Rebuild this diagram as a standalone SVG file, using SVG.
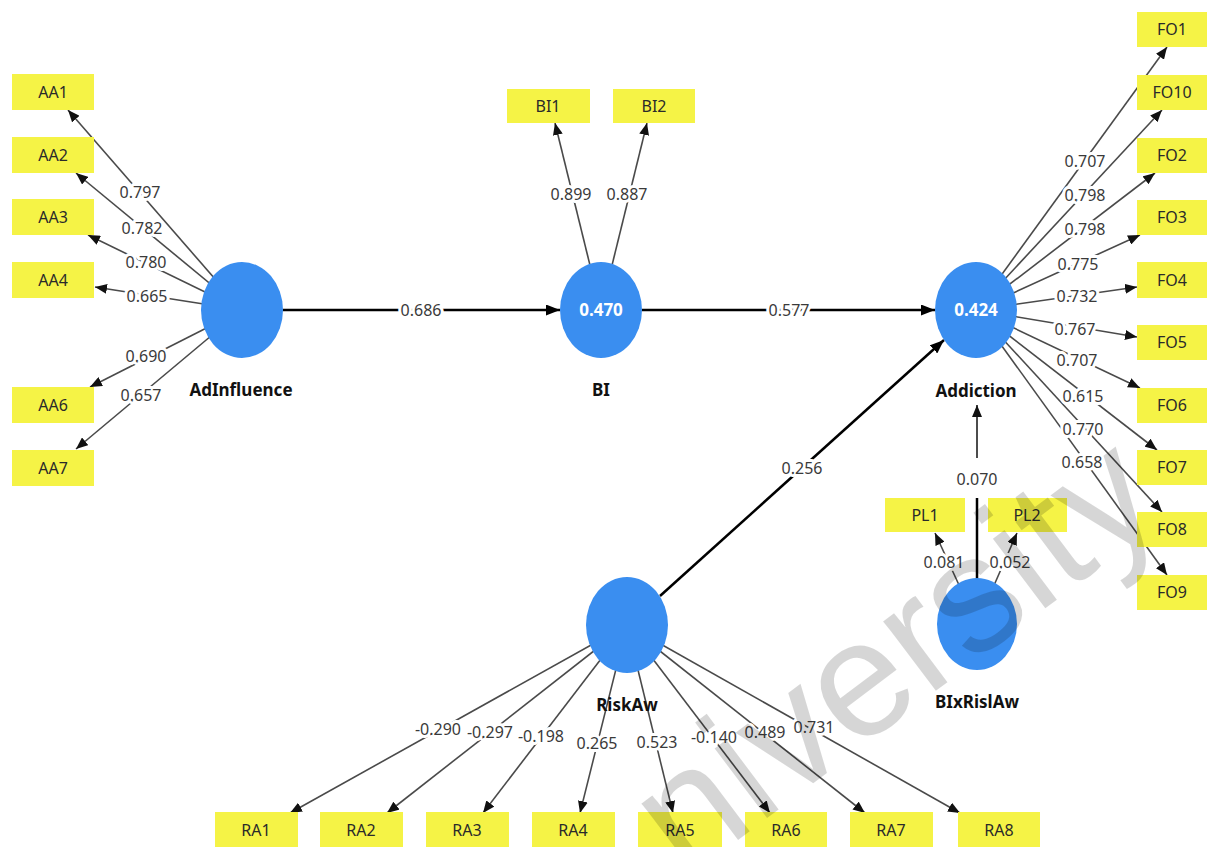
<svg xmlns="http://www.w3.org/2000/svg" width="1208" height="847" viewBox="0 0 1208 847">
<style>
.bg{fill:#fff}
.lv{fill:#3a8ef0}
.box{fill:#f5f346}
.bt{font-family:"Noto Sans","Liberation Sans",sans-serif;font-size:16px;fill:#2a2a2a;text-anchor:middle}
.nl{font-family:"Noto Sans","Liberation Sans",sans-serif;font-size:17px;font-weight:bold;fill:#111;text-anchor:middle}
.r2{font-family:"Noto Sans","Liberation Sans",sans-serif;font-size:17px;font-weight:bold;fill:#fff;text-anchor:middle}
.o{stroke:#4a4a4a;stroke-width:1.6;fill:none;marker-end:url(#ah)}
.i{stroke:#000;stroke-width:2.5;fill:none;marker-end:url(#ahb)}
.w{font-family:"Noto Sans","Liberation Sans",sans-serif;font-size:16px;fill:#3a3a3a;text-anchor:middle;stroke:#fff;stroke-width:6;paint-order:stroke;stroke-linejoin:round}
.wm{font-family:"Liberation Sans",Arial,sans-serif;font-size:165px;fill:#000;fill-opacity:0.16}
</style>
<defs>
<marker id="ah" viewBox="0 0 12 10" refX="12" refY="5" markerWidth="12" markerHeight="10" markerUnits="userSpaceOnUse" orient="auto"><path d="M0,0L12,5L0,10z" fill="#111"/></marker>
<marker id="ahb" viewBox="0 0 14 11" refX="14" refY="5.5" markerWidth="14" markerHeight="11" markerUnits="userSpaceOnUse" orient="auto"><path d="M0,0L14,5.5L0,11z" fill="#000"/></marker>
</defs>
<rect class="bg" x="0" y="0" width="1208" height="847"/>

<g id="connectors">
<line class="o" x1="242" y1="310" x2="68" y2="110"/>
<line class="o" x1="242" y1="310" x2="76" y2="173"/>
<line class="o" x1="242" y1="310" x2="88" y2="235"/>
<line class="o" x1="242" y1="310" x2="95" y2="287"/>
<line class="o" x1="242" y1="310" x2="90" y2="387"/>
<line class="o" x1="242" y1="310" x2="76" y2="449"/>
<line class="o" x1="601" y1="310" x2="555" y2="123"/>
<line class="o" x1="601" y1="310" x2="647" y2="123"/>
<line class="o" x1="976" y1="310" x2="1167" y2="47"/>
<line class="o" x1="976" y1="310" x2="1162" y2="110"/>
<line class="o" x1="976" y1="310" x2="1155" y2="173"/>
<line class="o" x1="976" y1="310" x2="1140" y2="235"/>
<line class="o" x1="976" y1="310" x2="1137" y2="287"/>
<line class="o" x1="976" y1="310" x2="1137" y2="337"/>
<line class="o" x1="976" y1="310" x2="1140" y2="388"/>
<line class="o" x1="976" y1="310" x2="1157" y2="450"/>
<line class="o" x1="976" y1="310" x2="1162" y2="512"/>
<line class="o" x1="976" y1="310" x2="1167" y2="575"/>
<line class="o" x1="627" y1="625" x2="290" y2="813"/>
<line class="o" x1="627" y1="625" x2="387" y2="813"/>
<line class="o" x1="627" y1="625" x2="483" y2="813"/>
<line class="o" x1="627" y1="625" x2="580" y2="813"/>
<line class="o" x1="627" y1="625" x2="673" y2="813"/>
<line class="o" x1="627" y1="625" x2="770" y2="813"/>
<line class="o" x1="627" y1="625" x2="865" y2="813"/>
<line class="o" x1="627" y1="625" x2="960" y2="813"/>
<line class="o" x1="977" y1="624" x2="935" y2="533"/>
<line class="o" x1="977" y1="624" x2="1017" y2="533"/>
<line class="i" x1="283" y1="310" x2="560" y2="310"/>
<line class="i" x1="642" y1="310" x2="935" y2="310"/>
<line class="i" x1="660" y1="596" x2="944" y2="340"/>
<line stroke="#000" stroke-width="2.5" x1="977" y1="580" x2="977" y2="498"/>
<line stroke="#111" stroke-width="1.5" x1="977" y1="458" x2="977" y2="405" marker-end="url(#ah)"/>

<text class="w" x="140" y="198">0.797</text>
<text class="w" x="142" y="234">0.782</text>
<text class="w" x="146" y="268">0.780</text>
<text class="w" x="147" y="302">0.665</text>
<text class="w" x="146" y="362">0.690</text>
<text class="w" x="141" y="401">0.657</text>
<text class="w" x="571" y="200">0.899</text>
<text class="w" x="627" y="200">0.887</text>
<text class="w" x="1085" y="167">0.707</text>
<text class="w" x="1085" y="201">0.798</text>
<text class="w" x="1085" y="235">0.798</text>
<text class="w" x="1078" y="270">0.775</text>
<text class="w" x="1077" y="302">0.732</text>
<text class="w" x="1075" y="335">0.767</text>
<text class="w" x="1077" y="366">0.707</text>
<text class="w" x="1083" y="402">0.615</text>
<text class="w" x="1083" y="435">0.770</text>
<text class="w" x="1082" y="468">0.658</text>
<text class="w" x="438" y="735">-0.290</text>
<text class="w" x="490" y="738">-0.297</text>
<text class="w" x="541" y="742">-0.198</text>
<text class="w" x="597" y="749">0.265</text>
<text class="w" x="657" y="748">0.523</text>
<text class="w" x="714" y="743">-0.140</text>
<text class="w" x="765" y="738">0.489</text>
<text class="w" x="814" y="733">0.731</text>
<text class="w" x="944" y="568">0.081</text>
<text class="w" x="1010" y="568">0.052</text>
<text class="w" x="421" y="316">0.686</text>
<text class="w" x="789" y="316">0.577</text>
<text class="w" x="802" y="474">0.256</text>
<text class="w" x="977" y="485">0.070</text>
</g>

<g id="AdInfluence"><ellipse class="lv" cx="242" cy="310" rx="41" ry="48"/><text class="nl" x="241" y="396">AdInfluence</text></g>
<g id="BI"><ellipse class="lv" cx="601" cy="310" rx="41" ry="48"/><text class="r2" x="601" y="316">0.470</text><text class="nl" x="601" y="396">BI</text></g>
<g id="Addiction"><ellipse class="lv" cx="976" cy="310" rx="41" ry="48"/><text class="r2" x="976" y="316">0.424</text><text class="nl" x="976" y="397">Addiction</text></g>
<g id="RiskAw"><ellipse class="lv" cx="627" cy="625" rx="41" ry="48"/><text class="nl" x="627" y="711">RiskAw</text></g>
<g id="BIxRislAw"><ellipse class="lv" cx="977" cy="624" rx="40" ry="46"/><text class="nl" x="977" y="708">BIxRislAw</text></g>

<g id="AA1"><rect class="box" x="12" y="74" width="82" height="36"/><text class="bt" x="53" y="98">AA1</text></g>
<g id="AA2"><rect class="box" x="12" y="137" width="82" height="36"/><text class="bt" x="53" y="161">AA2</text></g>
<g id="AA3"><rect class="box" x="12" y="199" width="82" height="36"/><text class="bt" x="53" y="223">AA3</text></g>
<g id="AA4"><rect class="box" x="12" y="262" width="82" height="36"/><text class="bt" x="53" y="286">AA4</text></g>
<g id="AA6"><rect class="box" x="12" y="387" width="82" height="36"/><text class="bt" x="53" y="411">AA6</text></g>
<g id="AA7"><rect class="box" x="12" y="450" width="82" height="36"/><text class="bt" x="53" y="474">AA7</text></g>

<g id="BI1"><rect class="box" x="507" y="89" width="83" height="34"/><text class="bt" x="548" y="112">BI1</text></g>
<g id="BI2"><rect class="box" x="613" y="89" width="82" height="34"/><text class="bt" x="654" y="112">BI2</text></g>

<g id="FO1"><rect class="box" x="1137" y="12" width="70" height="35"/><text class="bt" x="1172" y="35">FO1</text></g>
<g id="FO10"><rect class="box" x="1137" y="75" width="70" height="35"/><text class="bt" x="1172" y="98">FO10</text></g>
<g id="FO2"><rect class="box" x="1137" y="138" width="70" height="35"/><text class="bt" x="1172" y="161">FO2</text></g>
<g id="FO3"><rect class="box" x="1137" y="200" width="70" height="35"/><text class="bt" x="1172" y="223">FO3</text></g>
<g id="FO4"><rect class="box" x="1137" y="262" width="70" height="36"/><text class="bt" x="1172" y="286">FO4</text></g>
<g id="FO5"><rect class="box" x="1137" y="325" width="70" height="35"/><text class="bt" x="1172" y="348">FO5</text></g>
<g id="FO6"><rect class="box" x="1137" y="388" width="70" height="35"/><text class="bt" x="1172" y="411">FO6</text></g>
<g id="FO7"><rect class="box" x="1137" y="450" width="70" height="35"/><text class="bt" x="1172" y="473">FO7</text></g>
<g id="FO8"><rect class="box" x="1137" y="512" width="70" height="35"/><text class="bt" x="1172" y="535">FO8</text></g>
<g id="FO9"><rect class="box" x="1137" y="575" width="70" height="35"/><text class="bt" x="1172" y="598">FO9</text></g>

<g id="PL1"><rect class="box" x="885" y="498" width="80" height="34"/><text class="bt" x="925" y="521">PL1</text></g>
<g id="PL2"><rect class="box" x="988" y="498" width="79" height="34"/><text class="bt" x="1027" y="521">PL2</text></g>

<g id="RA1"><rect class="box" x="215" y="812" width="83" height="36"/><text class="bt" x="256" y="836">RA1</text></g>
<g id="RA2"><rect class="box" x="320" y="812" width="83" height="36"/><text class="bt" x="361" y="836">RA2</text></g>
<g id="RA3"><rect class="box" x="426" y="812" width="83" height="36"/><text class="bt" x="467" y="836">RA3</text></g>
<g id="RA4"><rect class="box" x="532" y="812" width="83" height="36"/><text class="bt" x="573" y="836">RA4</text></g>
<g id="RA5"><rect class="box" x="638" y="812" width="84" height="36"/><text class="bt" x="680" y="836">RA5</text></g>
<g id="RA6"><rect class="box" x="745" y="812" width="82" height="36"/><text class="bt" x="786" y="836">RA6</text></g>
<g id="RA7"><rect class="box" x="850" y="812" width="83" height="36"/><text class="bt" x="891" y="836">RA7</text></g>
<g id="RA8"><rect class="box" x="958" y="812" width="82" height="36"/><text class="bt" x="999" y="836">RA8</text></g>

<text class="wm" x="685" y="880" transform="rotate(-37 685 880)">niversity</text>
</svg>
